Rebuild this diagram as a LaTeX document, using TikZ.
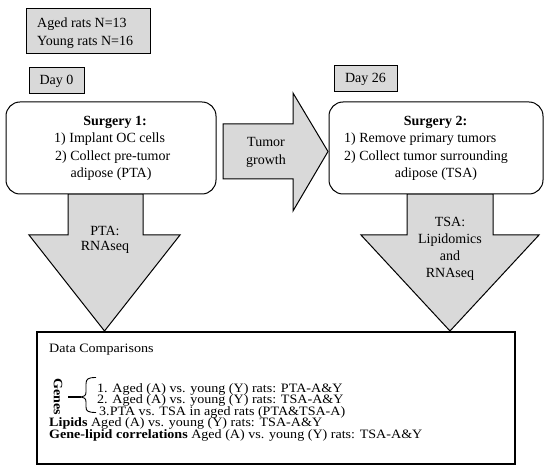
\documentclass[tikz,border=0pt]{standalone}
\usepackage{fontspec}
\setmainfont{Liberation Serif}
\newfontfamily\widefont[FakeStretch=1.1]{Liberation Serif}
\definecolor{boxgray}{RGB}{217,217,217}
\begin{document}
\begin{tikzpicture}[x=1pt,y=-1pt,
  gbox/.style={draw=black,fill=boxgray,line width=1pt,inner sep=0pt},
  rbox/.style={draw=black,fill=white,line width=1pt,rounded corners=14pt,inner sep=0pt},
  barrow/.style={draw=black,fill=boxgray,line width=1pt,line join=miter},
  txt/.style={inner sep=0pt,font=\fontsize{14}{17}\selectfont},
  dtxt/.style={inner sep=0pt,anchor=base west,text height=8.5pt,text depth=2.5pt,font=\widefont\fontsize{12.8}{15}\selectfont},
]
\useasboundingbox[fill=white] (0,0) rectangle (550,473);

% block arrows (drawn first, boxes on top)
\draw[barrow] (223,124) -- (293,124) -- (293,93) -- (328,151.5) -- (293,211) -- (293,179) -- (223,179) -- cycle;
\draw[barrow] (68,194) -- (143,194) -- (143,235) -- (180,235) -- (104.5,331) -- (29,235) -- (68,235) -- cycle;
\draw[barrow] (407,194) -- (493,194) -- (493,235) -- (539,235) -- (450,331) -- (361,235) -- (407,235) -- cycle;

% top boxes
\node[gbox,minimum width=124pt,minimum height=45pt] (rats) at (88,31.5) {};
\node[txt,anchor=west,align=left,font=\fontsize{14}{18}\selectfont] (ratstext) at (37,33) {Aged rats N=13\\Young rats N=16};
\node[gbox,minimum width=55pt,minimum height=26pt,txt] (day0) at (56.5,81) {Day 0};
\node[gbox,minimum width=63pt,minimum height=26pt,txt] (day26) at (365.5,79) {Day 26};

% surgery boxes
\node[rbox,minimum width=210pt,minimum height=92pt] (s1) at (111,148) {};
\node[rbox,minimum width=214pt,minimum height=92pt] (s2) at (436,148) {};

\node[txt,font=\fontsize{14}{17}\selectfont\bfseries] (s1h) at (115,122) {Surgery 1:};
\node[txt,anchor=west] (s1a) at (54,139.5) {1) Implant OC cells};
\node[txt,anchor=west] (s1b) at (55,157) {2) Collect pre-tumor};
\node[txt] (s1c) at (111,174) {adipose (PTA)};

\node[txt,font=\fontsize{14}{17}\selectfont\bfseries] (s2h) at (435.5,122) {Surgery 2:};
\node[txt,anchor=west] (s2a) at (344,139.5) {1) Remove primary tumors};
\node[txt,anchor=west] (s2b) at (344,157) {2) Collect tumor surrounding};
\node[txt] (s2c) at (436,174) {adipose (TSA)};

% arrow labels
\node[txt,align=center,font=\fontsize{14}{18}\selectfont] (tg) at (266,152) {Tumor\\growth};
\node[txt,align=center,font=\fontsize{14}{15.5}\selectfont] (pta) at (105,240) {PTA:\\RNAseq};
\node[txt,align=center,font=\fontsize{14}{17}\selectfont] (tsa) at (450,249) {TSA:\\Lipidomics\\and\\RNAseq};

% data comparisons box
\node[draw=black,fill=white,line width=1.4pt,minimum width=478pt,minimum height=132pt,inner sep=0pt] (data) at (276,398) {};
\node[dtxt] (dc) at (49,352.5) {Data Comparisons};
\node[inner sep=0pt,font=\widefont\fontsize{12.8}{15}\selectfont\bfseries,rotate=-90] (genes) at (58,396.5) {Genes};
\node[dtxt] (g1) at (97,392.5) {1. Aged (A) vs. young (Y) rats: PTA-A\&Y};
\node[dtxt] (g2) at (97,404) {2. Aged (A) vs. young (Y) rats: TSA-A\&Y};
\node[dtxt] (g3) at (99,415.5) {3.PTA vs. TSA in aged rats (PTA\&TSA-A)};
\node[dtxt] (lip) at (49,427) {\textbf{Lipids} Aged (A) vs. young (Y) rats: TSA-A\&Y};
\node[dtxt] (glc) at (49,438.5) {\textbf{Gene-lipid correlations} Aged (A) vs. young (Y) rats: TSA-A\&Y};

% brace
\coordinate (bt) at (96,377.5);
\coordinate (bb) at (96,412.5);
\coordinate (bm) at (81,397);
\coordinate (bl) at (68,397);
\draw[line width=0.9pt] (bt) .. controls (88,377.5) and (86,379) .. (86,384) -- (86,392) .. controls (86,395.5) and (84,397) .. (bm)
  .. controls (84,397) and (86,398.5) .. (86,402) -- (86,407) .. controls (86,411) and (88,412.5) .. (bb);
\draw[line width=1.8pt] (bl) -- (bm);
\end{tikzpicture}
\end{document}
